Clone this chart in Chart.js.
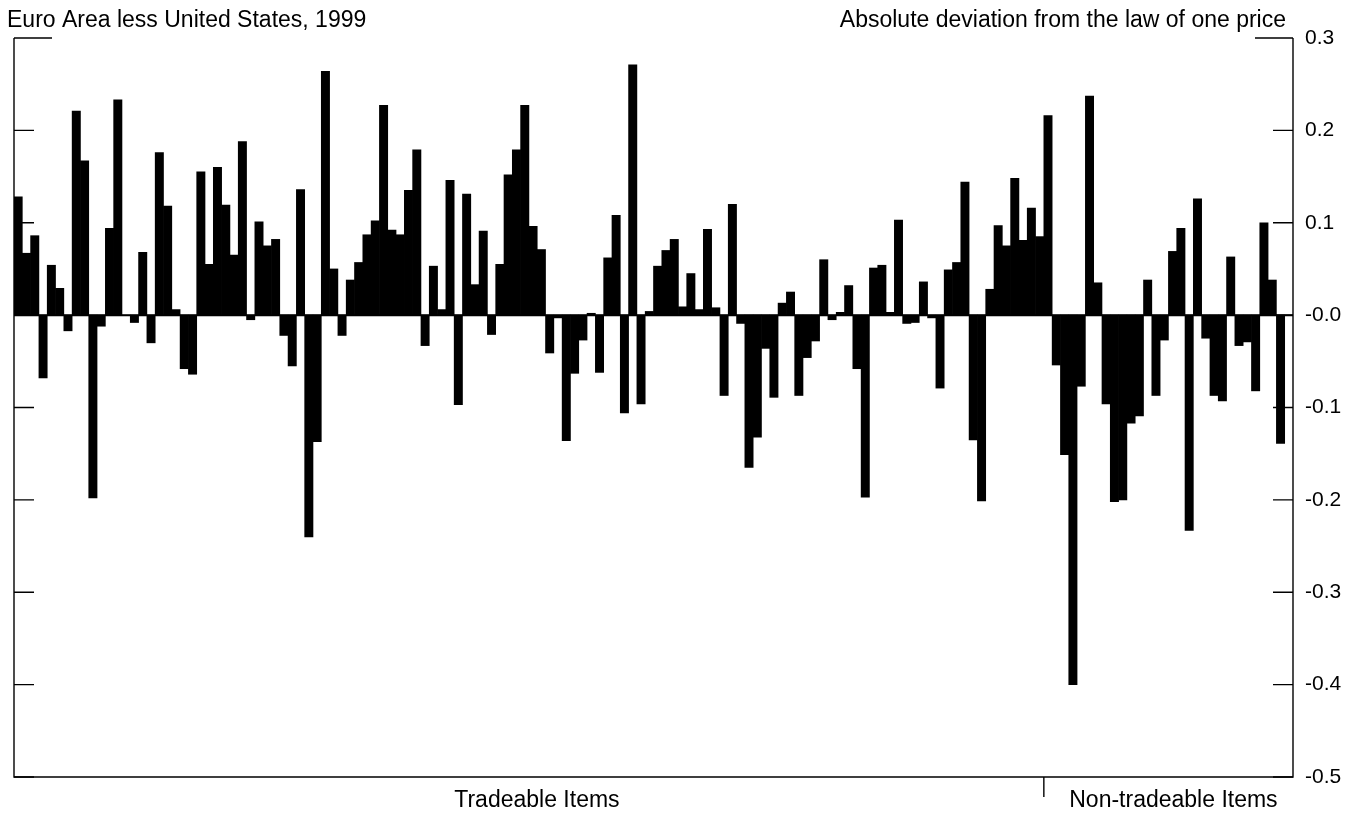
<!DOCTYPE html>
<html>
<head>
<meta charset="utf-8">
<script src="https://cdn.jsdelivr.net/npm/chart.js@4.4.1/dist/chart.umd.min.js"></script>
<style>
  html, body { margin: 0; padding: 0; background: #fff; }
  #wrap { width: 1361px; height: 815px; }
</style>
</head>
<body>
<div id="wrap"><canvas id="c" width="1361" height="815"></canvas></div>
<script>
// ---- Data ----
const titleLeft = 'Euro Area less United States, 1999';
const titleRight = 'Absolute deviation from the law of one price';
const groupLabels = ['Tradeable Items', 'Non-tradeable Items'];

const tradeableValues = [
  0.128, 0.067, 0.086, -0.068, 0.054, 0.029, -0.017, 0.221, 0.167, -0.198,
  -0.012, 0.094, 0.233, 0.000, -0.008, 0.068, -0.030, 0.176, 0.118, 0.006,
  -0.058, -0.064, 0.155, 0.055, 0.160, 0.119, 0.065, 0.188, -0.005, 0.101,
  0.075, 0.082, -0.022, -0.055, 0.136, -0.240, -0.137, 0.264, 0.050, -0.022,
  0.038, 0.057, 0.087, 0.102, 0.227, 0.092, 0.087, 0.135, 0.179, -0.033,
  0.053, 0.006, 0.146, -0.097, 0.131, 0.033, 0.091, -0.021, 0.055, 0.152,
  0.179, 0.227, 0.096, 0.071, -0.041, -0.003, -0.136, -0.063, -0.027, 0.002,
  -0.062, 0.062, 0.108, -0.106, 0.271, -0.096, 0.004, 0.053, 0.070, 0.082,
  0.009, 0.045, 0.006, 0.093, 0.008, -0.087, 0.120, -0.009, -0.165, -0.132,
  -0.036, -0.089, 0.013, 0.025, -0.087, -0.046, -0.028, 0.060, -0.005, 0.003,
  0.032, -0.058, -0.197, 0.051, 0.054, 0.003, 0.103, -0.009, -0.008, 0.036,
  -0.003, -0.079, 0.049, 0.057, 0.144, -0.135, -0.201, 0.028, 0.097, 0.075,
  0.148, 0.081, 0.116, 0.085
];
const nonTradeableValues = [
  0.216, -0.054, -0.151, -0.400, -0.077, 0.237, 0.035, -0.096, -0.202, -0.200,
  -0.117, -0.109, 0.038, -0.087, -0.027, 0.069, 0.094, -0.233, 0.126, -0.025,
  -0.087, -0.093, 0.063, -0.033, -0.029, -0.082, 0.100, 0.038, -0.139,
  null // empty trailing slot before the right axis
];
const yMin = -0.5, yMax = 0.3, yStep = 0.1;
const yTickLabels = ['-0.5', '-0.4', '-0.3', '-0.2', '-0.1', '-0.0', '0.1', '0.2', '0.3'];

// ---- Build chart structures ----
const values = tradeableValues.concat(nonTradeableValues);
const categories = values.map((_, i) => 'Item ' + (i + 1));
const FONT = '"Liberation Sans", Arial, Helvetica, sans-serif';

const framePlugin = {
  id: 'frame',
  afterDatasetsDraw(chart) {
    const ctx = chart.ctx;
    const a = chart.chartArea;
    const x = chart.scales.x, y = chart.scales.y;
    ctx.save();
    ctx.strokeStyle = '#000';
    ctx.fillStyle = '#000';

    // zero line
    const y0 = y.getPixelForValue(0);
    ctx.lineWidth = 2;
    ctx.beginPath();
    ctx.moveTo(a.left, y0);
    ctx.lineTo(a.right, y0);
    ctx.stroke();

    // axes: left, right, bottom
    ctx.lineWidth = 1.4;
    ctx.beginPath();
    ctx.moveTo(a.left, a.top);
    ctx.lineTo(a.left, a.bottom);
    ctx.lineTo(a.right, a.bottom);
    ctx.lineTo(a.right, a.top);
    ctx.stroke();

    // inward ticks on both vertical axes
    y.ticks.forEach(t => {
      const py = y.getPixelForValue(t.value);
      const len = Math.abs(t.value - yMax) < 1e-9 ? 38 : 20;
      ctx.beginPath();
      ctx.moveTo(a.left, py); ctx.lineTo(a.left + len, py);
      ctx.moveTo(a.right, py); ctx.lineTo(a.right - len, py);
      ctx.stroke();
    });

    // group divider tick below the axis
    const nT = tradeableValues.length;
    const xDiv = (x.getPixelForValue(nT - 1) + x.getPixelForValue(nT)) / 2;
    ctx.beginPath();
    ctx.moveTo(xDiv, a.bottom);
    ctx.lineTo(xDiv, a.bottom + 20);
    ctx.stroke();

    // group labels
    ctx.font = '23px ' + FONT;
    ctx.textAlign = 'center';
    ctx.textBaseline = 'middle';
    ctx.fillText(groupLabels[0], (a.left + xDiv) / 2 + 8, 801);
    ctx.fillText(groupLabels[1], (xDiv + a.right) / 2 + 5, 801);

    // titles
    ctx.textBaseline = 'alphabetic';
    ctx.textAlign = 'left';
    ctx.fillText(titleLeft, 7, 27);
    ctx.textAlign = 'right';
    ctx.fillText(titleRight, 1286, 27);
    ctx.restore();
  }
};

new Chart(document.getElementById('c'), {
  type: 'bar',
  data: {
    labels: categories,
    datasets: [{
      data: values,
      backgroundColor: '#000',
      borderWidth: 0,
      barPercentage: 1,
      categoryPercentage: 1
    }]
  },
  options: {
    responsive: false,
    animation: false,
    layout: { padding: { left: 14, top: 38, right: 0, bottom: 0 } },
    plugins: { legend: { display: false }, tooltip: { enabled: false }, title: { display: false } },
    scales: {
      x: {
        type: 'category',
        offset: true,
        grid: { display: false },
        border: { display: false },
        ticks: { display: false },
        afterFit(s) { s.height = 38; }
      },
      y: {
        position: 'right',
        min: yMin,
        max: yMax,
        grid: { display: false, drawTicks: false },
        border: { display: false },
        ticks: {
          stepSize: yStep,
          padding: 12,
          color: '#000',
          font: { family: FONT, size: 21 },
          callback(v) {
            const idx = Math.round((v - yMin) / yStep);
            return yTickLabels[idx];
          }
        },
        afterFit(s) { s.width = 68; }
      }
    }
  },
  plugins: [framePlugin]
});
</script>
</body>
</html>
